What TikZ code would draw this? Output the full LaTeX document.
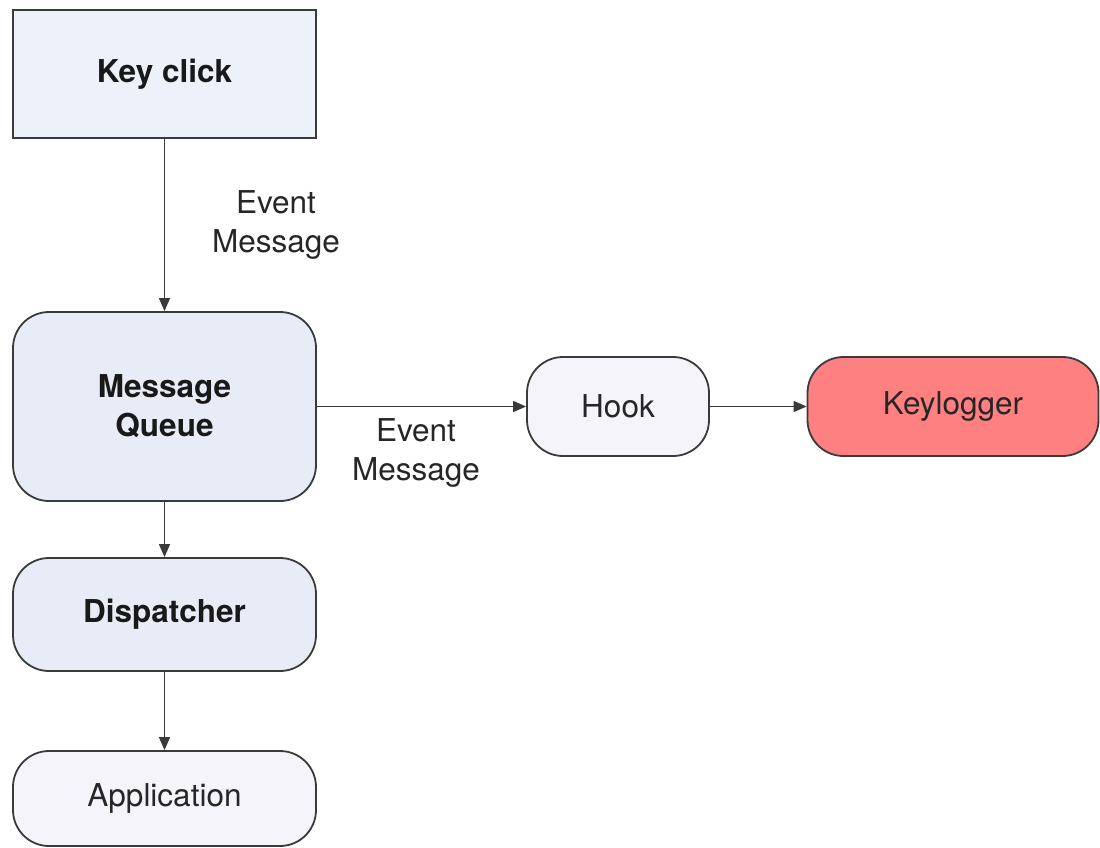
\documentclass[tikz,border=0pt]{standalone}
\usepackage{fontspec}
\setmainfont{TeX Gyre Heros}
\usetikzlibrary{arrows.meta}
\definecolor{boxA}{HTML}{EDF1FA}
\definecolor{boxB}{HTML}{E8ECF6}
\definecolor{boxC}{HTML}{F4F4FA}
\definecolor{boxR}{HTML}{FF8080}
\definecolor{edge}{HTML}{3A3A3A}
\begin{document}
\begin{tikzpicture}[x=1pt,y=-1pt,
  box/.style={draw=edge,line width=1.8pt,minimum width=303pt,inner sep=0pt},
  rbox/.style={box,rounded corners=36pt},
  bold/.style={font=\fontsize{31.5}{39}\selectfont\bfseries,text=black!90},
  plain/.style={font=\fontsize{31.5}{39}\selectfont,text=black!85},
  flow/.style={draw=edge,line width=1.5pt,-{Triangle[length=13pt,width=11pt]}},
  lbl/.style={plain,align=center}]
  \useasboundingbox (0,0) rectangle (1100,848);
  % main column
  \node[box,fill=boxA,minimum height=128pt,bold] (key) at (164.5,74) {Key click};
  \node[rbox,fill=boxB,minimum height=189pt,bold,align=center] (mq) at (164.5,406.5) {Message\\Queue};
  \node[rbox,fill=boxB,minimum height=113pt,bold] (disp) at (164.5,614.5) {Dispatcher};
  \node[rbox,fill=boxC,minimum height=95pt,plain] (app) at (164.5,798.5) {Application};
  % hook branch
  \node[rbox,fill=boxC,minimum width=182pt,minimum height=99pt,plain] (hook) at (618,406.5) {Hook};
  \node[rbox,fill=boxR,minimum width=291pt,minimum height=99pt,plain] (kl) at (953,406.5) {Keylogger};
  % connectors
  \draw[flow] (key) -- (mq);
  \draw[flow] (mq) -- (hook);
  \draw[flow] (hook) -- (kl);
  \draw[flow] (mq) -- (disp);
  \draw[flow] (disp) -- (app);
  % connector labels
  \node[lbl] (l1) at (276,225) {Event\\Message};
  \node[lbl] (l2) at (416,453) {Event\\Message};
\end{tikzpicture}
\end{document}
